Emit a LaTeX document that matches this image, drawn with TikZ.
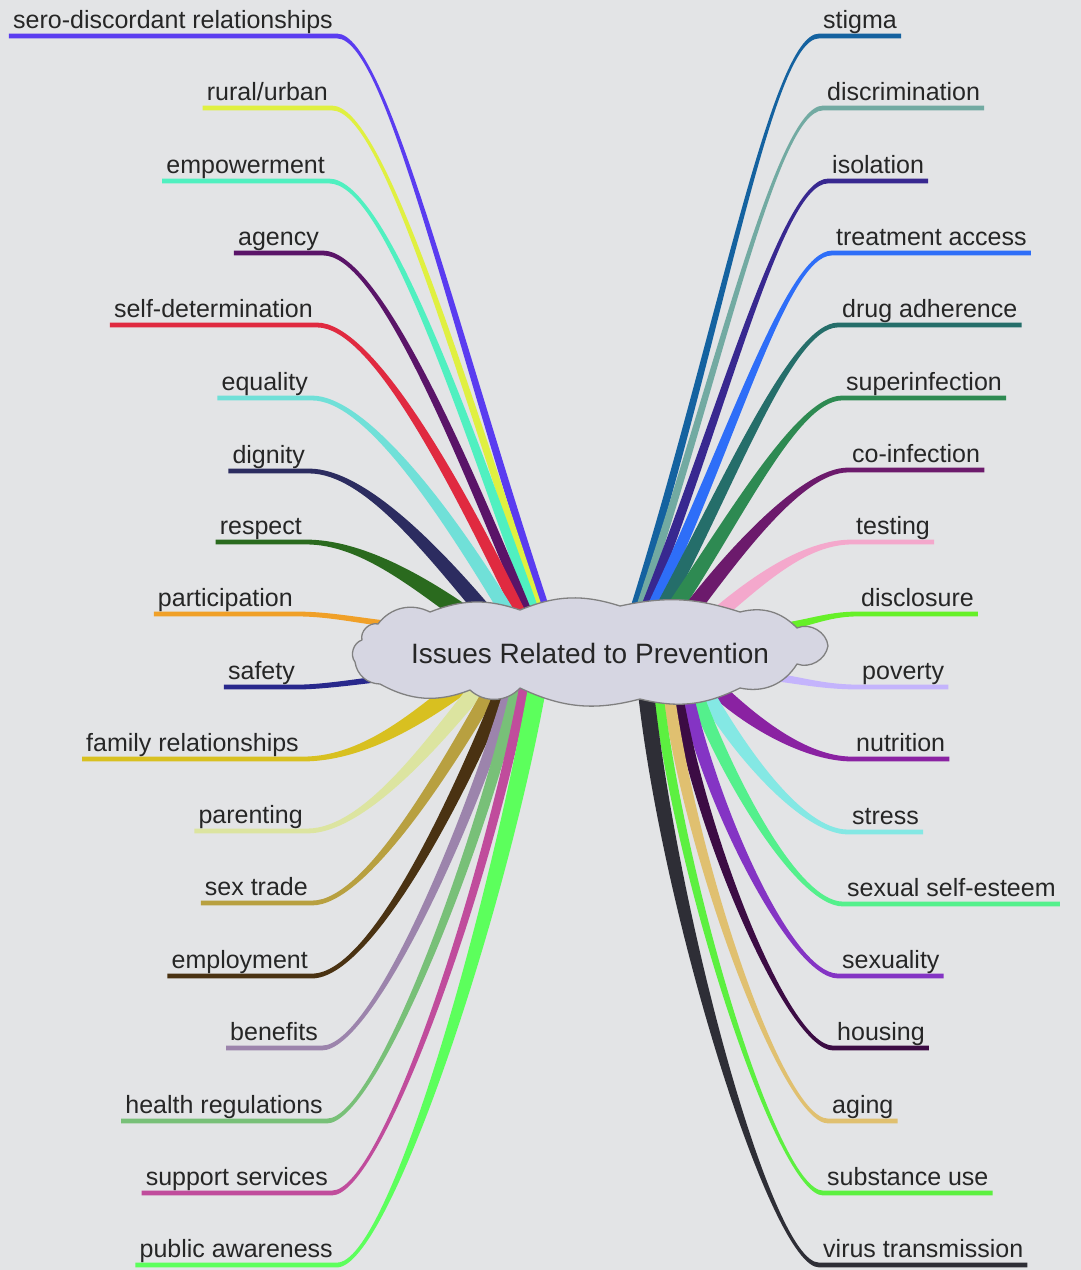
\documentclass[tikz,border=0pt]{standalone}
\usepackage{fontspec}
\setmainfont{Liberation Sans}
\usetikzlibrary{calc}

\pgfdeclarelayer{paper}
\pgfdeclarelayer{twigs}
\pgfsetlayers{paper,twigs,main}

\definecolor{bgpaper}{HTML}{E3E4E6}
\definecolor{cloudfill}{HTML}{D6D6E2}
% left colours
\definecolor{csero}{HTML}{5A3CF0}
\definecolor{crural}{HTML}{E0F040}
\definecolor{cempow}{HTML}{50F0C0}
\definecolor{cagency}{HTML}{5A1468}
\definecolor{cselfdet}{HTML}{E02A40}
\definecolor{cequal}{HTML}{70E0D8}
\definecolor{cdignity}{HTML}{2C2C60}
\definecolor{crespect}{HTML}{2A6A1E}
\definecolor{cpartic}{HTML}{F0A028}
\definecolor{csafety}{HTML}{28288C}
\definecolor{cfamily}{HTML}{D8C020}
\definecolor{cparent}{HTML}{DCE4A0}
\definecolor{csextrade}{HTML}{B8A040}
\definecolor{cemploy}{HTML}{4A3212}
\definecolor{cbenefit}{HTML}{9C84AC}
\definecolor{chealth}{HTML}{78C078}
\definecolor{csupport}{HTML}{C04C9C}
\definecolor{cpublic}{HTML}{5CFF5C}
% right colours
\definecolor{cstigma}{HTML}{1462A0}
\definecolor{cdiscrim}{HTML}{72AAA2}
\definecolor{cisol}{HTML}{382890}
\definecolor{ctreat}{HTML}{2E6EF8}
\definecolor{cdrug}{HTML}{256E6A}
\definecolor{csuper}{HTML}{2E8A52}
\definecolor{ccoinf}{HTML}{6C1A6C}
\definecolor{ctest}{HTML}{F4A8CC}
\definecolor{cdisclose}{HTML}{66F028}
\definecolor{cpoverty}{HTML}{C4B4FC}
\definecolor{cnutri}{HTML}{8A22A2}
\definecolor{cstress}{HTML}{84E8E4}
\definecolor{cselfest}{HTML}{54F08C}
\definecolor{csexual}{HTML}{8434C4}
\definecolor{chousing}{HTML}{3C0C44}
\definecolor{caging}{HTML}{E0C070}
\definecolor{csubst}{HTML}{5CF040}
\definecolor{cvirus}{HTML}{2E2E36}

% tapered branch: colour, label, end offset from hub, control at label, control at end, half width at end
\newcommand{\lbranch}[6]{%
  \begin{pgfonlayer}{twigs}
  \coordinate (e) at ($(hub)+(#3)$);
  \coordinate (k) at ($(e)+(#5)$);
  \fill[#1] ([yshift=2.4pt]#2.south west) -- ([yshift=2.4pt]#2.south east)
    .. controls +(#4) and +(#5) .. ($(e)!#6pt!-90:(k)$) -- ($(e)!#6pt!90:(k)$)
    .. controls +(#5) and +(#4) .. ([yshift=-2.4pt]#2.south east) -- ([yshift=-2.4pt]#2.south west) -- cycle;
  \end{pgfonlayer}}
\newcommand{\rbranch}[6]{%
  \begin{pgfonlayer}{twigs}
  \coordinate (e) at ($(hub)+(#3)$);
  \coordinate (k) at ($(e)+(#5)$);
  \fill[#1] ([yshift=2.4pt]#2.south east) -- ([yshift=2.4pt]#2.south west)
    .. controls +(#4) and +(#5) .. ($(e)!#6pt!90:(k)$) -- ($(e)!#6pt!-90:(k)$)
    .. controls +(#5) and +(#4) .. ([yshift=-2.4pt]#2.south west) -- ([yshift=-2.4pt]#2.south east) -- cycle;
  \end{pgfonlayer}}

\begin{document}
\begin{tikzpicture}[x=1pt, y=1pt,
    item/.style={inner xsep=4pt, inner ysep=0pt, text height=18pt, text depth=7pt,
      font=\fontsize{25pt}{30pt}\selectfont, text=black!85},
    lft/.style={item, anchor=south east},
    rgt/.style={item, anchor=south west},
    puff/.style={fill=cloudfill, draw=black!50, line width=1.3pt, line join=round},
    hubtext/.style={inner sep=0pt, font=\fontsize{28pt}{34pt}\selectfont, text=black!85}]

    % 背景
    \begin{pgfonlayer}{paper}
      \fill[bgpaper] (0,0) rectangle (1081,-1270);
    \end{pgfonlayer}

    % 中心の雲
    \filldraw[puff] (828,-646) to[bend right=55] (797,-628) to[bend right=30] (740,-612)
      to[bend right=15] (620,-606) to[bend right=20] (520,-610) to[bend right=20] (430,-612)
      to[bend right=40] (378,-624) to[bend right=60] (362,-640) to[bend right=55] (355,-662)
      to[bend right=40] (380,-684) to[bend right=25] (470,-690) to[bend right=45] (520,-688)
      to[bend right=20] (640,-699) to[bend right=20] (740,-688) to[bend right=35] (797,-664)
      to[bend right=50] (828,-646) -- cycle;
    \node[hubtext] (hub) at (590,-653) {Issues Related to Prevention};

    % 左側の項目
    \node[lft] (L1) at (337,-36) {sero-discordant relationships};
    \node[lft] (L2) at (332,-108) {rural/urban};
    \node[lft] (L3) at (329,-181) {empowerment};
    \node[lft] (L4) at (323,-253) {agency};
    \node[lft] (L5) at (317,-325) {self-determination};
    \node[lft] (L6) at (312,-398) {equality};
    \node[lft] (L7) at (309,-471) {dignity};
    \node[lft] (L8) at (306,-542) {respect};
    \node[lft] (L9) at (297,-614) {participation};
    \node[lft] (L10) at (299,-687) {safety};
    \node[lft] (L11) at (303,-759) {family relationships};
    \node[lft] (L12) at (307,-831) {parenting};
    \node[lft] (L13) at (312,-903) {sex trade};
    \node[lft] (L14) at (312,-976) {employment};
    \node[lft] (L15) at (322,-1048) {benefits};
    \node[lft] (L16) at (327,-1121) {health regulations};
    \node[lft] (L17) at (332,-1193) {support services};
    \node[lft] (L18) at (337,-1265) {public awareness};

    % 右側の項目
    \node[rgt] (R1) at (819,-36) {stigma};
    \node[rgt] (R2) at (823,-108) {discrimination};
    \node[rgt] (R3) at (828,-181) {isolation};
    \node[rgt] (R4) at (832,-253) {treatment access};
    \node[rgt] (R5) at (838,-325) {drug adherence};
    \node[rgt] (R6) at (842,-398) {superinfection};
    \node[rgt] (R7) at (848,-470) {co-infection};
    \node[rgt] (R8) at (852,-542) {testing};
    \node[rgt] (R9) at (857,-614) {disclosure};
    \node[rgt] (R10) at (858,-687) {poverty};
    \node[rgt] (R11) at (852,-759) {nutrition};
    \node[rgt] (R12) at (848,-832) {stress};
    \node[rgt] (R13) at (843,-904) {sexual self-esteem};
    \node[rgt] (R14) at (838,-976) {sexuality};
    \node[rgt] (R15) at (833,-1048) {housing};
    \node[rgt] (R16) at (828,-1121) {aging};
    \node[rgt] (R17) at (823,-1193) {substance use};
    \node[rgt] (R18) at (819,-1265) {virus transmission};

    % 枝を描画
    \lbranch{csero}{L1}{-40,31}{50,0}{-95,284}{4}
    \lbranch{crural}{L2}{-47,31}{50,0}{-88,264}{4}
    \lbranch{cempow}{L3}{-52,31}{53,0}{-83,234}{5}
    \lbranch{cagency}{L4}{-59,31}{52,0}{-79,194}{5}
    \lbranch{cselfdet}{L5}{-66,31}{53,0}{-74,154}{6}
    \lbranch{cequal}{L6}{-77,31}{53,0}{-68,114}{7}
    \lbranch{cdignity}{L7}{-97,31}{56,0}{-58,69}{8}
    \lbranch{crespect}{L8}{-115,31}{56,0}{-55,39}{9}
    \lbranch{cpartic}{L9}{-190,28}{35,0}{-35,3}{3}
    \lbranch{csafety}{L10}{-195,-24}{25,0}{-25,-3}{3}
    \lbranch{cfamily}{L11}{-125,-30}{64,0}{-40,-29}{9}
    \lbranch{cparent}{L12}{-108,-30}{60,0}{-42,-50}{8}
    \lbranch{csextrade}{L13}{-95,-30}{55,0}{-45,-78}{7}
    \lbranch{cemploy}{L14}{-85,-30}{60,0}{-43,-107}{7}
    \lbranch{cbenefit}{L15}{-78,-30}{50,0}{-42,-142}{6}
    \lbranch{chealth}{L16}{-72,-30}{48,0}{-40,-172}{6}
    \lbranch{csupport}{L17}{-65,-30}{50,0}{-38,-202}{5}
    \lbranch{cpublic}{L18}{-52,-30}{52,0}{-41,-230}{9}

    \rbranch{cstigma}{R1}{40,31}{-48,0}{90,284}{4}
    \rbranch{cdiscrim}{R2}{45,31}{-47,0}{83,244}{4}
    \rbranch{cisol}{R3}{50,31}{-47,0}{82,204}{5}
    \rbranch{ctreat}{R4}{56,31}{-46,0}{84,174}{6}
    \rbranch{cdrug}{R5}{65,31}{-47,0}{73,134}{7}
    \rbranch{csuper}{R6}{75,31}{-46,0}{65,94}{8}
    \rbranch{ccoinf}{R7}{92,31}{-47,0}{48,64}{8}
    \rbranch{ctest}{R8}{122,34}{-46,0}{48,41}{7}
    \rbranch{cdisclose}{R9}{185,25}{-31,0}{30,3}{4}
    \rbranch{cpoverty}{R10}{175,-23}{-37,0}{30,-3}{4}
    \rbranch{cnutri}{R11}{120,-30}{-46,0}{40,-39}{8}
    \rbranch{cstress}{R12}{110,-30}{-47,0}{35,-63}{8}
    \rbranch{cselfest}{R13}{102,-30}{-47,0}{30,-85}{7}
    \rbranch{csexual}{R14}{94,-30}{-47,0}{24,-118}{7}
    \rbranch{chousing}{R15}{85,-30}{-45,0}{23,-147}{6}
    \rbranch{caging}{R16}{77,-30}{-45,0}{23,-177}{6}
    \rbranch{csubst}{R17}{67,-30}{-45,0}{23,-202}{5}
    \rbranch{cvirus}{R18}{55,-30}{-48,0}{23,-225}{8}
\end{tikzpicture}
\end{document}
